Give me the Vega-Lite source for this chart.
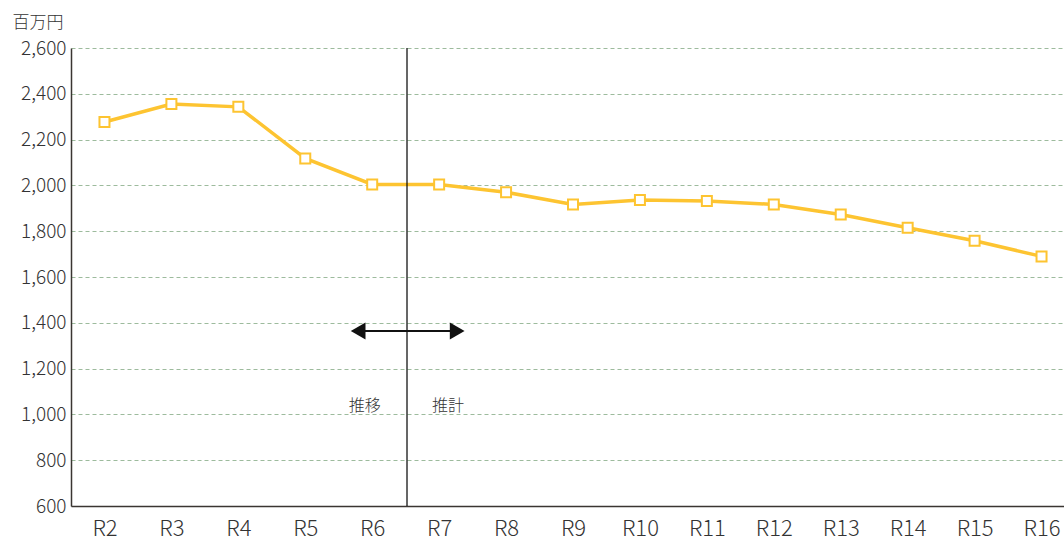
{
  "$schema": "https://vega.github.io/schema/vega-lite/v6.json",
  "autosize": "none",
  "padding": {"left": 71, "top": 48, "right": 0, "bottom": 36},
  "width": 1004,
  "height": 458,
  "background": "white",
  "config": {
    "view": {"stroke": null},
    "font": "Noto Sans CJK JP",
    "axis": {"labelFont": "Noto Sans CJK JP", "titleFont": "Noto Sans CJK JP", "labelColor": "#333", "titleColor": "#333", "labelFontWeight": 300}
  },
  "datasets": {
    "series": [
      {"i": 0, "year": "R2", "value": 2277},
      {"i": 1, "year": "R3", "value": 2355},
      {"i": 2, "year": "R4", "value": 2343},
      {"i": 3, "year": "R5", "value": 2118},
      {"i": 4, "year": "R6", "value": 2004},
      {"i": 5, "year": "R7", "value": 2004},
      {"i": 6, "year": "R8", "value": 1970},
      {"i": 7, "year": "R9", "value": 1917},
      {"i": 8, "year": "R10", "value": 1936},
      {"i": 9, "year": "R11", "value": 1932},
      {"i": 10, "year": "R12", "value": 1917},
      {"i": 11, "year": "R13", "value": 1873},
      {"i": 12, "year": "R14", "value": 1815},
      {"i": 13, "year": "R15", "value": 1758},
      {"i": 14, "year": "R16", "value": 1690}
    ],
    "divider": [{"x": 4.52}],
    "arrow": [{"x1": 3.79, "x2": 5.27, "y": 1364}],
    "heads": [
      {"x": 3.79, "y": 1364, "shape": "triangle-left"},
      {"x": 5.27, "y": 1364, "shape": "triangle-right"}
    ],
    "notes": [
      {"x": 3.89, "y": 1037, "text": "推移"},
      {"x": 5.134, "y": 1037, "text": "推計"}
    ]
  },
  "layer": [
    {
      "data": {"name": "series"},
      "mark": {"type": "line", "color": "#FDC431", "strokeWidth": 3.5, "clip": false},
      "encoding": {
        "x": {
          "field": "i", "type": "quantitative",
          "scale": {"domain": [-0.5, 14.5], "nice": false, "zero": false},
          "axis": {
            "values": [0,1,2,3,4,5,6,7,8,9,10,11,12,13,14],
            "labelExpr": "['R2','R3','R4','R5','R6','R7','R8','R9','R10','R11','R12','R13','R14','R15','R16'][datum.value]",
            "title": null, "grid": false, "ticks": false,
            "domainColor": "#3a3532", "domainWidth": 1.5,
            "labelFontSize": 22, "labelPadding": 12, "labelFlush": false
          }
        },
        "y": {
          "field": "value", "type": "quantitative",
          "scale": {"domain": [600, 2600], "nice": false, "zero": false},
          "axis": {
            "values": [600, 800, 1000, 1200, 1400, 1600, 1800, 2000, 2200, 2400, 2600],
            "format": ",d",
            "title": "百万円", "titleAngle": 0, "titleX": -59, "titleY": -26,
            "titleAlign": "left", "titleBaseline": "middle", "titleFontSize": 17, "titleFontWeight": 300,
            "grid": true, "gridColor": "#9dbb9d", "gridDash": [4, 3], "gridWidth": 1,
            "ticks": false, "domainColor": "#3a3532", "domainWidth": 1.5,
            "labelFontSize": 19, "labelPadding": 5
          }
        }
      }
    },
    {
      "data": {"name": "series"},
      "mark": {"type": "point", "shape": "square", "filled": true, "fill": "white", "stroke": "#FDC431", "strokeWidth": 2, "size": 100, "opacity": 1},
      "encoding": {
        "x": {"field": "i", "type": "quantitative"},
        "y": {"field": "value", "type": "quantitative"}
      }
    },
    {
      "data": {"name": "divider"},
      "mark": {"type": "rule", "color": "#000", "strokeWidth": 1.2},
      "encoding": {
        "x": {"field": "x", "type": "quantitative"}
      }
    },
    {
      "data": {"name": "arrow"},
      "mark": {"type": "rule", "color": "#111", "strokeWidth": 2},
      "encoding": {
        "x": {"field": "x1", "type": "quantitative"},
        "x2": {"field": "x2"},
        "y": {"field": "y", "type": "quantitative"}
      }
    },
    {
      "data": {"name": "heads"},
      "mark": {"type": "point", "filled": true, "color": "#111", "size": 290, "opacity": 1},
      "encoding": {
        "x": {"field": "x", "type": "quantitative"},
        "y": {"field": "y", "type": "quantitative"},
        "shape": {"field": "shape", "type": "nominal", "scale": null, "legend": null}
      }
    },
    {
      "data": {"name": "notes"},
      "mark": {"type": "text", "fontSize": 16, "fontWeight": 300, "color": "#333", "align": "center", "baseline": "middle"},
      "encoding": {
        "x": {"field": "x", "type": "quantitative"},
        "y": {"field": "y", "type": "quantitative"},
        "text": {"field": "text"}
      }
    }
  ]
}
